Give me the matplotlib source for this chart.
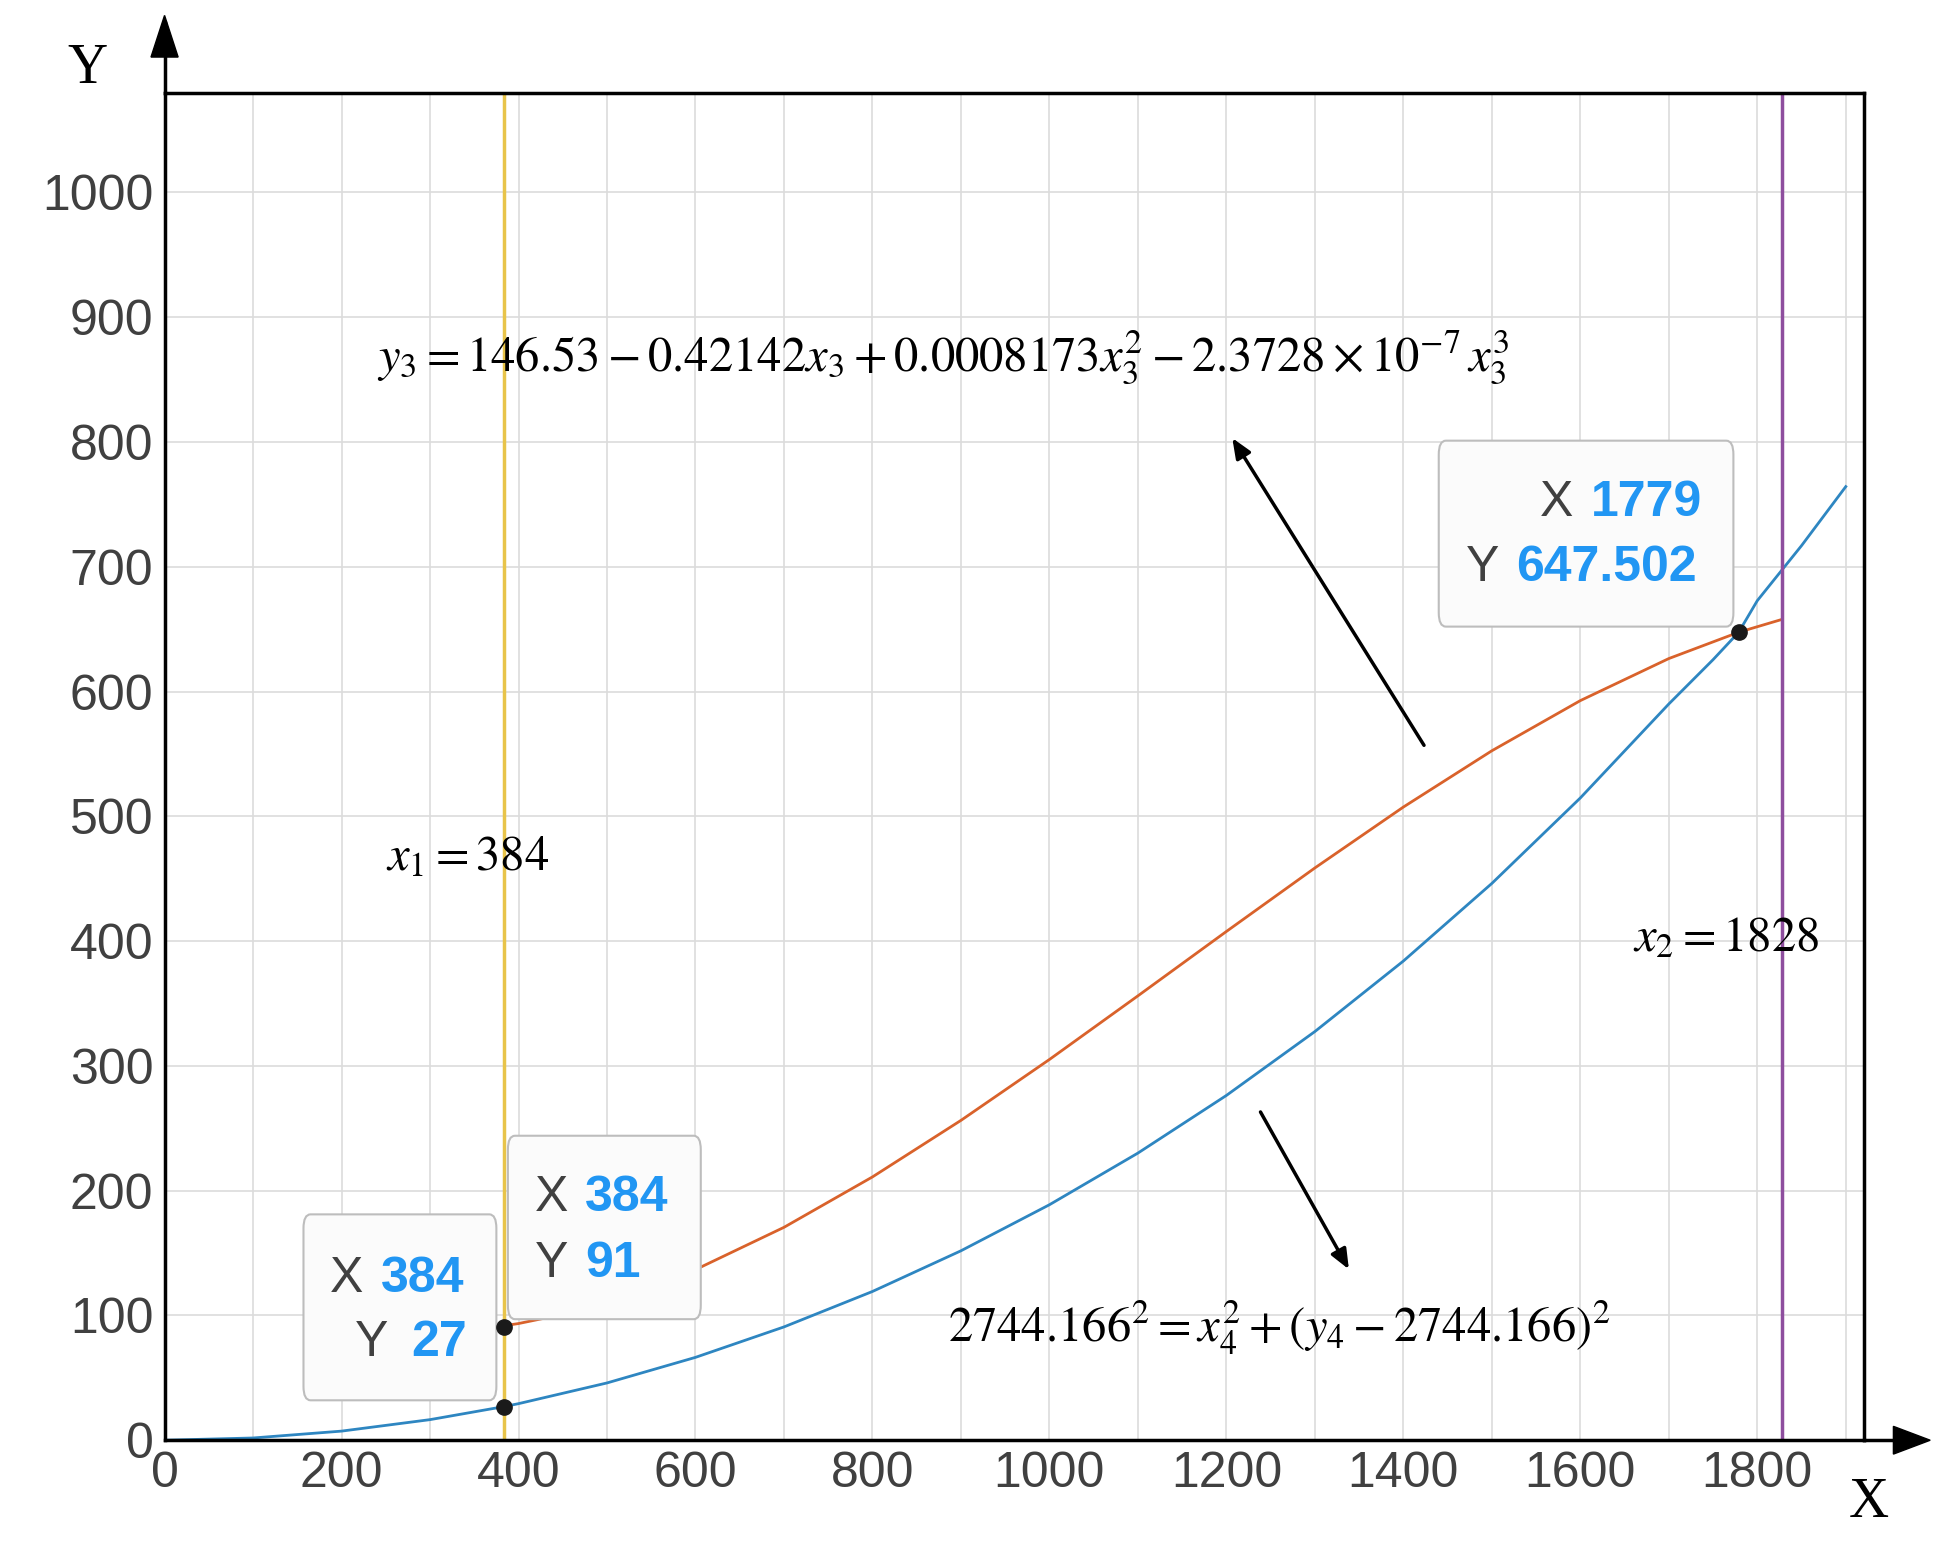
import matplotlib.pyplot as plt
from matplotlib.patches import FancyBboxPatch

plt.rcParams['mathtext.fontset'] = 'stix'

# circle arc 2744.166^2 = x^2 + (y - 2744.166)^2
circle_x = [0, 100, 200, 300, 384, 400, 500, 600, 700, 800, 900, 1000, 1100, 1200,
            1300, 1400, 1500, 1600, 1700, 1750, 1779, 1800, 1850, 1900]
circle_y = [0, 1.8, 7.3, 16.5, 27, 29.3, 45.9, 66.4, 90.8, 119.2, 151.8, 188.7, 230.1,
            276.3, 327.5, 384.0, 446.2, 514.7, 590.0, 625.5, 647.5, 672.8, 716.9, 764.2]
# cubic fit curve
cubic_x = [384, 400, 450, 500, 550, 600, 700, 800, 900, 1000, 1100, 1200, 1300, 1400,
           1500, 1600, 1700, 1779, 1828]
cubic_y = [91.8, 93.5, 100.8, 110.5, 122.3, 136.7, 170.6, 211.0, 256.3, 305.1, 356.1,
           407.7, 458.6, 507.4, 552.5, 592.7, 626.4, 647.5, 657.8]
x1, x2 = 384, 1828
tips = [(384, 27), (384, 91), (1779, 647.502)]
tip_labels = [('384', '27'), ('384', '91'), ('1779', '647.502')]

fig = plt.figure(figsize=(19.36, 15.42), dpi=100)
ax = fig.add_axes([0.085, 0.066, 0.878, 0.874])
ax.set_xlim(0, 1921)
ax.set_ylim(0, 1080)
ax.set_xticks(range(0, 1801, 200))
ax.set_yticks(range(0, 1001, 100))
ax.set_xticks(range(100, 1901, 200), minor=True)
ax.grid(True, which='both', color='#dcdcdc', lw=1.2)
ax.tick_params(which='both', length=0, labelsize=36, labelcolor='#404040', pad=8)
for lab in ax.get_xticklabels() + ax.get_yticklabels():
    lab.set_family('Liberation Sans')
for s in ax.spines.values():
    s.set_linewidth(2.5)

ax.plot(circle_x, circle_y, color='#2e86c1', lw=2)
ax.plot(cubic_x, cubic_y, color='#d9622b', lw=2)
ax.axvline(x1, color='#e8c44a', lw=2.5)
ax.axvline(x2, color='#8e4e9e', lw=2.5)
for tx, ty in tips:
    ax.plot(tx, ty, 'o', color='#1a1a1a', ms=11, zorder=7)

# data tips: box (x0, y0, w, h), letter x for X, Y, value x, row y's
boxes = [((157, 32), 218, 149, 206, 234, (245, 279), (129, 78)),
         ((388, 97), 218, 147, 437, 437, (475, 475), (194, 141)),
         ((1440, 652), 333, 149, 1573, 1489, (1612, 1527), (751, 699))]
for (xy, w, h, xx, yx, vx, ry), (vX, vY) in zip(boxes, tip_labels):
    ax.add_patch(FancyBboxPatch(xy, w, h, boxstyle='round,pad=0,rounding_size=8',
                                fc='#fbfbfb', ec='#bdbdbd', lw=1.5, zorder=6,
                                mutation_aspect=1.4))
    ax.text(xx, ry[0], 'X', fontsize=36, family='Liberation Sans', color='#404040',
            ha='center', va='center', zorder=8)
    ax.text(yx, ry[1], 'Y', fontsize=36, family='Liberation Sans', color='#404040',
            ha='center', va='center', zorder=8)
    ax.text(vx[0], ry[0], vX, fontsize=36, family='Liberation Sans', weight='bold',
            color='#2196f3', ha='left', va='center', zorder=8)
    ax.text(vx[1], ry[1], vY, fontsize=36, family='Liberation Sans', weight='bold',
            color='#2196f3', ha='left', va='center', zorder=8)

ax.text(240, 868, r'$y_3=146.53-0.42142x_3+0.0008173x_3^2-2.3728\times10^{-7}\,x_3^3$',
        fontsize=35, va='center')
ax.text(250, 468, r'$x_1=384$', fontsize=35, va='center')
ax.text(1660, 403, r'$x_2=1828$', fontsize=35, va='center')
ax.text(885, 90, r'$2744.166^2=x_4^2+\left(y_4-2744.166\right)^2$', fontsize=35, va='center')
ax.annotate('', xy=(1205, 805), xytext=(1425, 555),
            arrowprops=dict(arrowstyle='-|>,head_width=0.5,head_length=1.2', color='k', lw=2.5))
ax.annotate('', xy=(1340, 135), xytext=(1237, 265),
            arrowprops=dict(arrowstyle='-|>,head_width=0.5,head_length=1.2', color='k', lw=2.5))

# axis arrows
fig.add_artist(plt.Line2D([0.085, 0.085], [0.94, 0.985], color='k', lw=2.5))
fig.add_artist(plt.Polygon([[0.078, 0.963], [0.092, 0.963], [0.085, 0.99]], color='k'))
fig.add_artist(plt.Line2D([0.963, 0.99], [0.066, 0.066], color='k', lw=2.5))
fig.add_artist(plt.Polygon([[0.978, 0.057], [0.978, 0.075], [0.997, 0.066]], color='k'))
fig.text(0.035, 0.955, 'Y', fontsize=40, family='Liberation Serif', va='center')
fig.text(0.955, 0.025, 'X', fontsize=40, family='Liberation Serif', va='center')

fig.savefig('out.png', dpi=100)
